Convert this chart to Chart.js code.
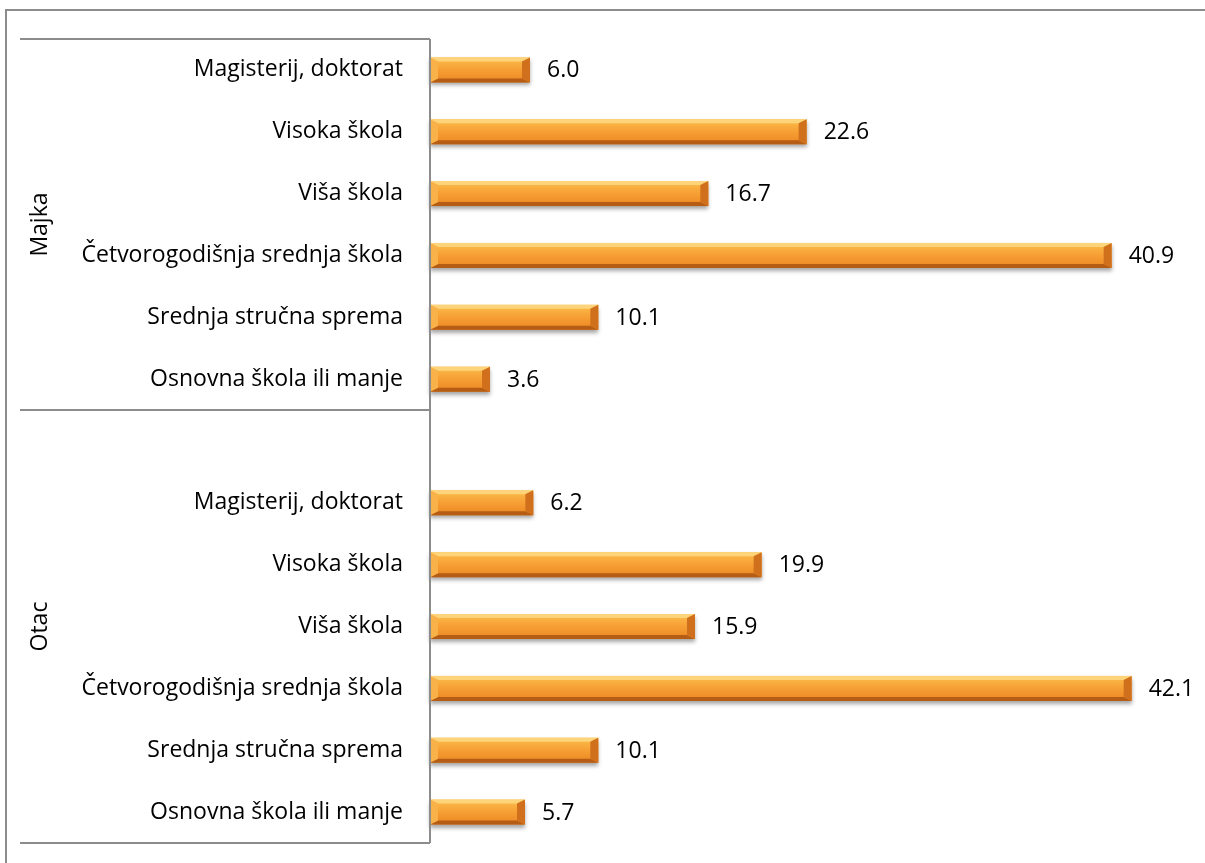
<!DOCTYPE html>
<html>
<head>
<meta charset="utf-8">
<script src="https://cdn.jsdelivr.net/npm/chart.js@4"></script>
<style>
  body { margin: 0; background: #fff; overflow: hidden; }
  #wrap { position: absolute; left: 0; top: 0; width: 1205px; height: 863px; }
</style>
</head>
<body>
<div id="wrap"><canvas id="chart"></canvas></div>
<script>
// podaci
const groups = ['Majka', 'Otac'];
const categories = [
  'Magisterij, doktorat',
  'Visoka škola',
  'Viša škola',
  'Četvorogodišnja srednja škola',
  'Srednja stručna sprema',
  'Osnovna škola ili manje'
];
const majkaValues = [6.0, 22.6, 16.7, 40.9, 10.1, 3.6];
const otacValues = [6.2, 19.9, 15.9, 42.1, 10.1, 5.7];

// prazan red između grupa
const labels = [...categories, '', ...categories];
const values = [...majkaValues, null, ...otacValues];

const FONT = '"Open Sans", Lato, sans-serif';
const FONT_SIZE = 23;
const lineColor = '#8c8c8c';

// okvir oko cijelog grafikona (desni i donji rub su izvan slike)
const framePlugin = {
  id: 'frame',
  beforeDraw(chart) {
    const ctx = chart.ctx;
    ctx.save();
    ctx.strokeStyle = lineColor;
    ctx.lineWidth = 2;
    ctx.beginPath();
    ctx.moveTo(6, chart.height + 5);
    ctx.lineTo(6, 10);
    ctx.lineTo(chart.width + 5, 10);
    ctx.stroke();
    ctx.restore();
  }
};

// bevel efekt + vrijednosti desno od stupca
const bevelPlugin = {
  id: 'bevel',
  afterDatasetsDraw(chart) {
    const ctx = chart.ctx;
    const meta = chart.getDatasetMeta(0);
    meta.data.forEach((bar, i) => {
      if (values[i] == null) return;
      const { x, y, base, height } = bar.getProps(['x', 'y', 'base', 'height'], true);
      const x0 = base, x1 = x, yt = y - height / 2, yb = y + height / 2;
      const bw = 8, bh = 4;
      ctx.save();
      // sjena
      ctx.shadowColor = 'rgba(0,0,0,0.35)';
      ctx.shadowBlur = 4;
      ctx.shadowOffsetY = 3;
      const g = ctx.createLinearGradient(0, yt, 0, yb);
      g.addColorStop(0, '#fcc04c');
      g.addColorStop(0.45, '#f7a136');
      g.addColorStop(1, '#ec8622');
      ctx.fillStyle = g;
      ctx.fillRect(x0, yt, x1 - x0, height);
      ctx.restore();

      ctx.save();
      const poly = (pts, color) => {
        ctx.beginPath();
        ctx.moveTo(pts[0][0], pts[0][1]);
        for (let k = 1; k < pts.length; k++) ctx.lineTo(pts[k][0], pts[k][1]);
        ctx.closePath();
        ctx.fillStyle = color;
        ctx.fill();
      };
      poly([[x0, yt], [x1, yt], [x1 - bw, yt + bh], [x0 + bw, yt + bh]], '#fdd47a');
      poly([[x0, yb], [x1, yb], [x1 - bw, yb - bh], [x0 + bw, yb - bh]], '#b55d14');
      poly([[x0, yt], [x0 + bw, yt + bh], [x0 + bw, yb - bh], [x0, yb]], '#f9b24a');
      poly([[x1, yt], [x1 - bw, yt + bh], [x1 - bw, yb - bh], [x1, yb]], '#d0701c');
      ctx.restore();

      ctx.save();
      ctx.font = FONT_SIZE + 'px ' + FONT;
      ctx.fillStyle = '#000';
      ctx.textBaseline = 'middle';
      ctx.fillText(values[i].toFixed(1), x1 + 17, y + 1);
      ctx.restore();
    });
  }
};

// linije grupa i nazivi grupa (Majka / Otac)
const groupPlugin = {
  id: 'groups',
  afterDraw(chart) {
    const ctx = chart.ctx;
    const yScale = chart.scales.y;
    const area = chart.chartArea;
    const sep = (yScale.getPixelForValue(5) + yScale.getPixelForValue(6)) / 2;
    const lines = [area.top, sep, area.bottom];
    ctx.save();
    ctx.strokeStyle = lineColor;
    ctx.lineWidth = 2;
    lines.forEach(ly => {
      ctx.beginPath();
      ctx.moveTo(20, ly);
      ctx.lineTo(area.left, ly);
      ctx.stroke();
    });
    ctx.beginPath();
    ctx.moveTo(area.left, area.top);
    ctx.lineTo(area.left, area.bottom);
    ctx.stroke();

    ctx.font = FONT_SIZE + 'px ' + FONT;
    ctx.fillStyle = '#000';
    ctx.textAlign = 'center';
    ctx.textBaseline = 'middle';
    const centers = [(area.top + sep) / 2, (sep + area.bottom) / 2];
    groups.forEach((name, k) => {
      ctx.save();
      ctx.translate(40, centers[k]);
      ctx.rotate(-Math.PI / 2);
      ctx.fillText(name, 0, 0);
      ctx.restore();
    });
    ctx.restore();
  }
};

new Chart(document.getElementById('chart'), {
  type: 'bar',
  data: {
    labels: labels,
    datasets: [{
      data: values,
      backgroundColor: 'rgba(0,0,0,0)',
      barThickness: 25
    }]
  },
  options: {
    indexAxis: 'y',
    responsive: true,
    maintainAspectRatio: false,
    animation: false,
    layout: { padding: { left: 0, top: 39, right: 0, bottom: 20 } },
    plugins: {
      legend: { display: false },
      tooltip: { enabled: false }
    },
    scales: {
      x: {
        display: false,
        min: 0,
        max: 46.5
      },
      y: {
        grid: { display: false, drawTicks: false },
        border: { display: false },
        ticks: {
          padding: 27,
          color: '#000',
          font: { family: FONT, size: FONT_SIZE }
        },
        afterFit(scale) {
          scale.width = 430;
          // bez dodatnog razmaka gore/dolje zbog oznaka
          scale.paddingTop = 0;
          scale.paddingBottom = 0;
        }
      }
    }
  },
  plugins: [framePlugin, bevelPlugin, groupPlugin]
});
</script>
</body>
</html>
